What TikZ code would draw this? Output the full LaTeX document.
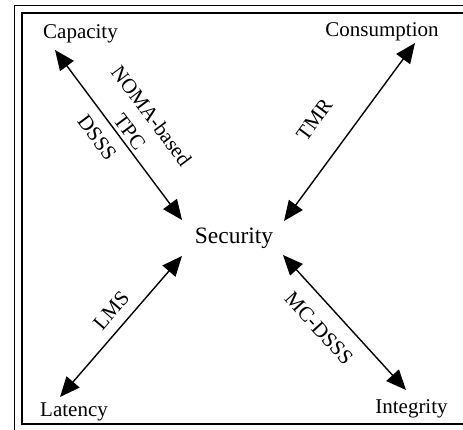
\documentclass[tikz,border=0pt]{standalone}
\usepackage{fontspec}
\setmainfont{Liberation Serif}
\usetikzlibrary{arrows.meta,calc}
\begin{document}
\begin{tikzpicture}[x=1pt,y=-1pt,
  lbl/.style={font=\fontsize{21}{24}\selectfont, inner sep=0pt, anchor=base},
  biarrow/.style={line width=1.4pt, {Triangle[length=20pt,width=17pt]}-{Triangle[length=20pt,width=17pt]}},
  edgelbl/.style={font=\fontsize{21}{27}\selectfont, sloped, inner sep=0pt, align=center},
  frame/.style={line width=1.5pt}]
\useasboundingbox (0,0) rectangle (463,430);
\draw[frame] (14.5,440) -- (14.5,5.5) -- (480,5.5);
\draw[frame] (22,13) rectangle (480,424);
\node[lbl] (cap) at (80.5,39) {Capacity};
\node[lbl] (con) at (382,37) {Consumption};
\node[lbl] (lat) at (74,416) {Latency};
\node[lbl] (int) at (411.5,413) {Integrity};
\node[lbl, font=\fontsize{23.5}{26}\selectfont] (sec) at (234,244) {Security};
\coordinate (capT) at (55,50);
\coordinate (secA) at (182,220);
\coordinate (conT) at (415,43);
\coordinate (secB) at (284,221);
\coordinate (secC) at (182,256);
\coordinate (latT) at (60,397);
\coordinate (secD) at (283,255);
\coordinate (intT) at (406,390);
\draw[biarrow] (capT) -- node[edgelbl, above=3pt, pos=0.52] {NOMA-based\\TPC} node[edgelbl, below=11pt, pos=0.45] {DSSS} (secA);
\draw[biarrow] (conT) -- node[edgelbl, above=28pt, pos=0.55] {TMR} (secB);
\draw[biarrow] (secC) -- node[edgelbl, above=10pt, pos=0.47] {LMS} (latT);
\draw[biarrow] (secD) -- node[edgelbl, below=15pt, pos=0.43] {MC-DSSS} (intT);
\end{tikzpicture}
\end{document}
